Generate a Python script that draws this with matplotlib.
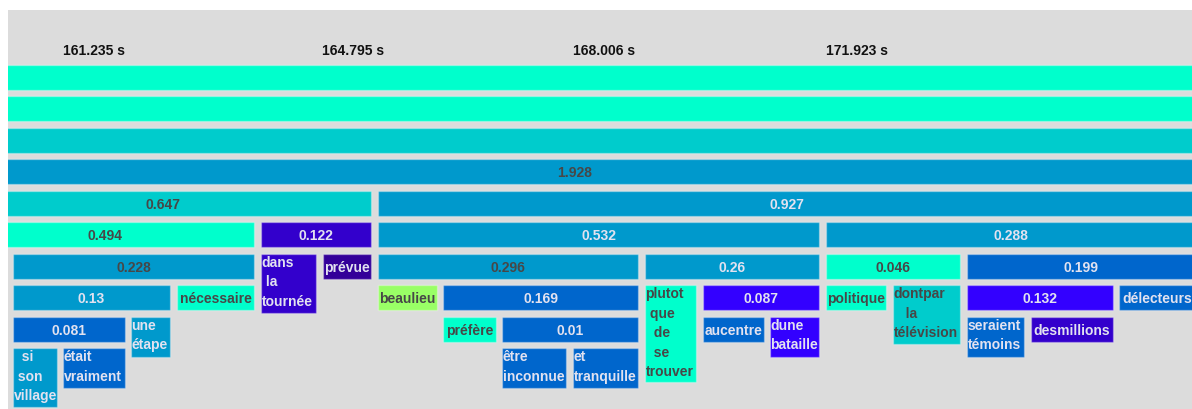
import matplotlib
matplotlib.use("Agg")
import matplotlib.pyplot as plt
from matplotlib.patches import Rectangle

# time marks shown above the tree (left edge of the word they belong to)
tick_labels = ["161.235 s", "164.795 s", "168.006 s", "171.923 s"]
tick_x = [63, 322, 573, 826]

# tree nodes: label, depth (row), start / end along the layout axis
node_labels = [
    "", "", "", "1.928",
    "0.647", "0.927",
    "0.494", "0.122", "0.532", "0.288",
    "0.228", "dans\n la\ntournée", "prévue", "0.296", "0.26", "0.046", "0.199",
    "0.13", "nécessaire", "beaulieu", "0.169", "plutot\n que\n  de\n  se\ntrouver",
    "0.087", "politique", "dontpar\n   la\ntélévision", "0.132", "délecteurs",
    "0.081", "une\nétape", "préfère", "0.01", "aucentre", "dune\nbataille",
    "seraient\ntémoins", "desmillions",
    "  si\n son\nvillage", "était\nvraiment", "être\ninconnue", "et\ntranquille",
]
node_depth = [
    0, 1, 2, 3,
    4, 4,
    5, 5, 5, 5,
    6, 6, 6, 6, 6, 6, 6,
    7, 7, 7, 7, 7, 7, 7, 7, 7, 7,
    8, 8, 8, 8, 8, 8, 8, 8,
    9, 9, 9, 9,
]
node_start = [
    -45, -45, -45, -45,
    -45, 378,
    -45, 261, 378, 826,
    13, 261, 323, 378, 645, 826, 967,
    13, 177, 378, 443, 645, 703, 826, 893, 967, 1119,
    13, 131, 443, 502, 703, 770, 967, 1031,
    13, 63, 502, 573,
]
node_end = [
    1195, 1195, 1195, 1195,
    371, 1195,
    254, 371, 819, 1195,
    254, 316, 371, 638, 819, 960, 1195,
    170, 254, 437, 638, 696, 819, 886, 960, 1113, 1195,
    125, 170, 496, 638, 764, 819, 1024, 1113,
    57, 125, 566, 638,
]
node_color = [
    "#00ffcc", "#00ffcc", "#00cccc", "#0099cc",
    "#00cccc", "#0099cc",
    "#00ffcc", "#3300cc", "#0099cc", "#0099cc",
    "#0099cc", "#3300cc", "#330099", "#0099cc", "#0099cc", "#00ffcc", "#0066cc",
    "#0099cc", "#00ffcc", "#99ff66", "#0066cc", "#00ffcc", "#3300ff", "#00ffcc",
    "#00cccc", "#3300ff", "#0066cc",
    "#0066cc", "#0099cc", "#00ffcc", "#0066cc", "#0066cc", "#3300ff", "#0066cc", "#3300cc",
    "#0099cc", "#0066cc", "#0066cc", "#0066cc",
]
dark_text = {"1.928", "0.647", "0.494", "0.228", "0.296", "0.046", "nécessaire",
             "beaulieu", "préfère", "politique"}
dark_prefix = ("plutot", "dontpar")

plt.rcParams["font.family"] = ["Liberation Sans", "DejaVu Sans"]

fig = plt.figure(figsize=(11.92, 4.10), dpi=100)
ax = fig.add_axes([8 / 1192, 0, 1184 / 1192, 399 / 410])
ax.set_facecolor("#dcdcdc")
ax.set_xlim(8, 1192)
ax.set_ylim(410, 11)
ax.axis("off")
ax.add_patch(Rectangle((8, 11), 1184, 399, facecolor="#dcdcdc", edgecolor="none", zorder=0))

row_top, row_pitch, bar_h = 66, 31.45, 25

for lab, d, x0, x1, col in zip(node_labels, node_depth, node_start, node_end, node_color):
    lines = lab.count("\n") + 1
    h = bar_h if lines == 1 else lines * 19 + 2
    y = row_top + d * row_pitch
    ax.add_patch(Rectangle((x0, y), x1 - x0, h, facecolor=col,
                           edgecolor=(1, 1, 1, 0.3), linewidth=1, zorder=2))
    if not lab:
        continue
    tc = "#474747" if (lab in dark_text or lab.startswith(dark_prefix)) else "#e2e2f0"
    if lines == 1:
        ax.text((x0 + x1) / 2, y + bar_h / 2 + 0.5, lab, ha="center", va="center",
                fontsize=10, fontweight="bold", color=tc, zorder=3, clip_on=True)
    else:
        ax.text(x0 + 0.5, y + 1, lab, ha="left", va="top", linespacing=1.5,
                fontsize=10, fontweight="bold", color=tc, zorder=3, clip_on=True)

for tx, tl in zip(tick_x, tick_labels):
    ax.text(tx, 51, tl, ha="left", va="center", fontsize=10, fontweight="bold",
            color="#111111", zorder=3)

fig.savefig("out.png", dpi=100, facecolor="white")
